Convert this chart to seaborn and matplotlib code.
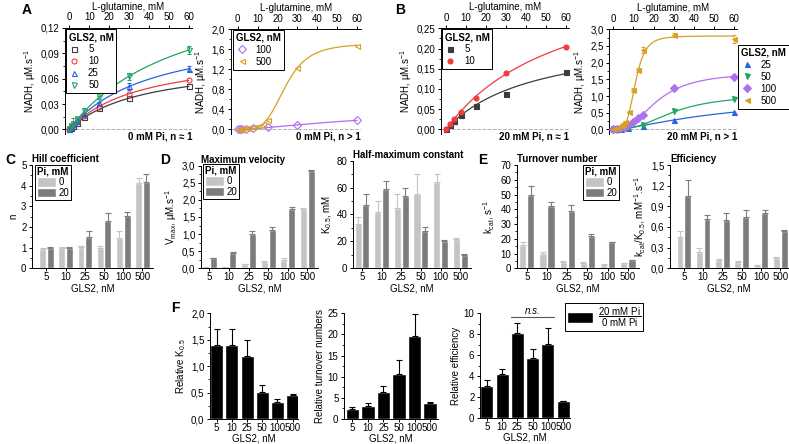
import numpy as np
import pandas as pd
import matplotlib
matplotlib.use('Agg')
import matplotlib.pyplot as plt
from matplotlib.ticker import FuncFormatter, MultipleLocator, AutoMinorLocator
from matplotlib.patches import Patch
from matplotlib.lines import Line2D
import seaborn as sns

W, H = 789, 444

# ---------------- данные ----------------
GLS2 = ['5', '10', '25', '50', '100', '500']

# A: 0 mM Pi, n ~ 1
A_X = [0, 1, 2, 4, 7.5, 15, 30, 60]
A_Y5 = [0, 0.002, 0.004, 0.008, 0.015, 0.025, 0.037, 0.051]
A_Y10 = [0, 0.003, 0.005, 0.009, 0.016, 0.026, 0.042, 0.058]
A_Y25 = [0, 0.003, 0.006, 0.010, 0.018, 0.031, 0.051, 0.072]
A_Y50 = [0, 0.004, 0.007, 0.012, 0.022, 0.038, 0.063, 0.094]
A_E25 = [0, 0.001, 0.002, 0.002, 0.002, 0.002, 0.004, 0.003]
A_E50 = [0, 0.002, 0.006, 0.003, 0.003, 0.002, 0.004, 0.005]
# A: 0 mM Pi, n > 1
A_X100 = [0, 1, 2, 4, 7.5, 15, 30, 60]
A_Y100 = [0, 0.004, 0.008, 0.012, 0.02, 0.04, 0.085, 0.19]
A_X500 = [0, 1, 2, 4, 5, 7.5, 10, 12.5, 15, 30, 60]
A_Y500 = [0, 0.005, 0.01, 0.02, 0.03, 0.05, 0.07, 0.1, 0.18, 1.22, 1.67]

# B: 20 mM Pi, n ~ 1
B_X = [0, 2, 4, 7.5, 15, 30, 60]
B_Y5 = [0, 0.01, 0.02, 0.035, 0.059, 0.088, 0.142]
B_Y10 = [0, 0.013, 0.025, 0.043, 0.078, 0.14, 0.204]
# B: 20 mM Pi, n > 1
B_X25 = [0, 2, 4, 7.5, 15, 30, 60]
B_Y25 = [0, 0.01, 0.02, 0.04, 0.09, 0.29, 0.52]
B_Y50 = [0, 0.01, 0.02, 0.05, 0.14, 0.56, 0.91]
B_X100 = [0, 2, 4, 6, 7.5, 10, 12.5, 15, 30, 60]
B_Y100 = [0, 0.01, 0.04, 0.08, 0.12, 0.22, 0.35, 0.42, 1.23, 1.58]
B_X500 = [0, 2, 4, 5, 6, 8, 10, 12.5, 15, 30, 60]
B_Y500 = [0, 0.05, 0.1, 0.16, 0.22, 0.52, 1.18, 1.78, 2.38, 2.84, 2.70]
B_E500 = [0, 0.01, 0.02, 0.02, 0.03, 0.04, 0.06, 0.05, 0.1, 0.06, 0.12]

# параметры аппроксимации Хилла (Vmax, K0.5, n)
FIT_A5, FIT_A10, FIT_A25, FIT_A50 = (0.082, 36.5, 1), (0.093, 36, 1), (0.122, 42, 1), (0.185, 58, 1)
FIT_A100, FIT_A500 = (0.4, 67, 1.5), (1.72, 24, 4.15)
FIT_B5, FIT_B10 = (0.239, 44, 1), (0.41, 60, 1)
FIT_B25, FIT_B50, FIT_B100, FIT_B500 = (0.95, 53, 1.5), (1.05, 30, 2.5), (1.72, 22, 2.5), (2.8, 11, 4.5)

# C-E: кинетические параметры (0 и 20 mM Pi)
HILL_0 = [0.95, 0.97, 1.03, 1.0, 1.48, 4.15]
HILL_0_ERR = [0.03, 0.08, 0.05, 0.06, 0.32, 0.2]
HILL_20 = [1.0, 1.0, 1.5, 2.29, 2.53, 4.2]
HILL_20_ERR = [0.03, 0.03, 0.3, 0.4, 0.19, 0.38]
VMAX_0 = [0.02, 0.04, 0.13, 0.19, 0.25, 1.72]
VMAX_0_ERR = [0.005, 0.01, 0.01, 0.02, 0.05, 0.03]
VMAX_20 = [0.29, 0.46, 1.0, 1.12, 1.74, 2.84]
VMAX_20_ERR = [0.01, 0.01, 0.08, 0.09, 0.06, 0.04]
K05_0 = [33, 42, 44.5, 55, 64, 22]
K05_0_ERR = [5, 8, 11, 15, 6, 0.5]
K05_20 = [47, 59, 53.7, 27.6, 20, 10]
K05_20_ERR = [8, 6, 6, 3, 1, 0.3]
KCAT_0 = [16, 10, 4.6, 3.9, 2.4, 3.3]
KCAT_0_ERR = [2, 1, 0.5, 0.4, 0.3, 0.3]
KCAT_20 = [50, 42, 39, 22, 17.5, 5.5]
KCAT_20_ERR = [6, 3, 4, 1, 0.5, 0.3]
EFF_0 = [0.46, 0.24, 0.12, 0.09, 0.04, 0.15]
EFF_0_ERR = [0.08, 0.05, 0.02, 0.02, 0.01, 0.01]
EFF_20 = [1.05, 0.71, 0.70, 0.75, 0.80, 0.535]
EFF_20_ERR = [0.23, 0.07, 0.10, 0.10, 0.05, 0.02]

# F: отношение 20 mM Pi / 0 mM Pi
REL_K = [1.4, 1.4, 1.2, 0.51, 0.33, 0.45]
REL_K_ERR = [0.3, 0.3, 0.3, 0.14, 0.04, 0.02]
REL_KCAT = [2.3, 3.0, 6.3, 10.6, 19.7, 3.7]
REL_KCAT_ERR = [0.6, 0.8, 1.5, 3.3, 5.1, 0.4]
REL_EFF = [3.1, 4.2, 8.1, 5.7, 7.1, 1.6]
REL_EFF_ERR = [0.55, 0.5, 1.0, 0.85, 1.5, 0.05]

COLORS = {'5': '#3c3c3c', '10': '#f03c3c', '25': '#2a62e0', '50': '#1fa565',
          '100': '#b06ef0', '500': '#d8a024'}
MARKERS = {'5': 's', '10': 'o', '25': '^', '50': 'v', '100': 'D', '500': '<'}
LIGHT, DARK = '#c4c4c4', '#7c7c7c'

# ---------------- стиль ----------------
sns.set_theme(style='ticks')
plt.rcParams['font.family'] = ['Liberation Sans', 'DejaVu Sans']
plt.rcParams.update({
    'font.size': 7, 'axes.labelsize': 7, 'xtick.labelsize': 7, 'ytick.labelsize': 7,
    'legend.fontsize': 7, 'axes.linewidth': 0.7,
    'xtick.major.width': 0.7, 'ytick.major.width': 0.7,
    'xtick.minor.width': 0.6, 'ytick.minor.width': 0.6,
    'xtick.major.size': 2.5, 'ytick.major.size': 2.5,
    'xtick.minor.size': 1.5, 'ytick.minor.size': 1.5,
    'xtick.major.pad': 1.5, 'ytick.major.pad': 1.5, 'axes.labelpad': 2,
    'axes.edgecolor': 'black', 'xtick.color': 'black', 'ytick.color': 'black',
    'text.color': 'black', 'axes.labelcolor': 'black',
    'mathtext.fontset': 'custom', 'mathtext.rm': 'Liberation Sans',
    'mathtext.it': 'Liberation Sans:italic', 'mathtext.bf': 'Liberation Sans:bold',
    'mathtext.default': 'regular',
})

fig = plt.figure(figsize=(W / 100, H / 100), dpi=100)


def px_axes(l, t, r, b):
    return fig.add_axes([l / W, 1 - b / H, (r - l) / W, (b - t) / H])


def comma(dec):
    return FuncFormatter(lambda v, p: f'{v:.{dec}f}'.replace('.', ','))


def hill(x, v, k, n):
    return v * x ** n / (k ** n + x ** n)


def fig_legend(ax, handles, labels, title, x, y, **kw):
    leg = ax.legend(handles, labels, title=title, loc='upper left',
                    bbox_to_anchor=(x / W, 1 - y / H), bbox_transform=fig.transFigure,
                    frameon=True, fancybox=False, edgecolor='black', framealpha=1,
                    borderaxespad=0, title_fontproperties={'weight': 'bold', 'size': 7}, **kw)
    leg._legend_box.align = 'left'
    leg.get_frame().set_linewidth(0.7)
    return leg


def kinetic_panel(box, xlim, ymax, ystep, dec, series, filled, note, leg_xy):
    ax = px_axes(*box)
    xs = np.linspace(0, 60, 300)
    handles, labels = [], []
    for x, y, err, fit, key in series:
        c = COLORS[key]
        sns.lineplot(x=xs, y=hill(xs, *fit), color=c, lw=0.9, ax=ax)
        fc = c if filled else 'none'
        ax.errorbar(x, y, yerr=err, fmt=MARKERS[key], ms=3.6, mfc=fc, mec=c, mew=0.8,
                    ecolor=c, elinewidth=0.6, capsize=1.5, ls='none', zorder=3)
        handles.append(Line2D([], [], marker=MARKERS[key], ls='none', ms=3.6,
                              mfc=fc, mec=c, mew=0.8))
        labels.append(key)
    ax.axhline(0, color='#b0b0b0', ls='--', lw=0.7, zorder=0)
    ax.set_xlim(*xlim)
    ax.set_ylim(-ymax * 0.045, ymax)
    ax.xaxis.tick_top()
    ax.xaxis.set_label_position('top')
    ax.set_xticks(range(0, 61, 10))
    ax.set_xlabel('L-glutamine, mM', labelpad=2)
    ax.yaxis.set_major_locator(MultipleLocator(ystep))
    ax.yaxis.set_minor_locator(AutoMinorLocator(2))
    ax.yaxis.set_major_formatter(comma(dec))
    ax.set_ylabel('NADH, µM.s$^{-1}$')
    for s in ('bottom', 'right'):
        ax.spines[s].set_visible(False)
    ax.text(1.0, -0.025, note, transform=ax.transAxes, ha='right', va='center',
            fontweight='bold', clip_on=False)
    fig_legend(ax, handles, labels, 'GLS2, nM', *leg_xy, borderpad=0.3,
               labelspacing=0.2, handletextpad=0.8, handlelength=1.2)
    return ax


def bar_panel(box, xlim, ymax, ystep, dec, v0, e0, v20, e20, title, ylabel, leg_xy=None):
    ax = px_axes(*box)
    df = pd.DataFrame({'GLS2': GLS2 * 2, 'Pi': ['0'] * 6 + ['20'] * 6, 'val': v0 + v20})
    sns.barplot(data=df, x='GLS2', y='val', hue='Pi', order=GLS2, hue_order=['0', '20'],
                palette=[LIGHT, DARK], width=0.8, gap=0.1, errorbar=None, legend=False,
                saturation=1, ax=ax)
    for cont, errs, col in zip(ax.containers, [e0, e20], [LIGHT, DARK]):
        bx = [p.get_x() + p.get_width() / 2 for p in cont]
        bh = [p.get_height() for p in cont]
        ax.errorbar(bx, bh, yerr=[np.zeros(len(errs)), errs], fmt='none', ecolor=col,
                    elinewidth=0.8, capsize=2, capthick=0.8)
    ax.set_xlim(*xlim)
    ax.set_ylim(0, ymax)
    ax.yaxis.set_major_locator(MultipleLocator(ystep))
    ax.yaxis.set_minor_locator(AutoMinorLocator(2))
    ax.yaxis.set_major_formatter(comma(dec))
    ax.tick_params(axis='x', length=2, pad=1)
    ax.set_xlabel('GLS2, nM', labelpad=0.5)
    ax.set_ylabel(ylabel)
    ax.set_title(title, loc='left', fontweight='bold', fontsize=7, pad=2)
    sns.despine(ax=ax)
    if leg_xy is not None:
        hs = [Patch(facecolor=LIGHT), Patch(facecolor=DARK)]
        fig_legend(ax, hs, ['0', '20'], 'Pi, mM', *leg_xy, borderpad=0.2,
                   labelspacing=0.05, handletextpad=0.2, handlelength=2.0, handleheight=1.1)
    return ax


def rel_panel(box, xlim, ymax, ystep, dec, vals, errs, ylabel):
    ax = px_axes(*box)
    sns.barplot(x=GLS2, y=vals, color='black', width=0.85, saturation=1,
                errorbar=None, ax=ax)
    bars = ax.containers[0]
    bx = [p.get_x() + p.get_width() / 2 for p in bars]
    bh = [p.get_height() for p in bars]
    ax.errorbar(bx, bh, yerr=[np.zeros(len(errs)), errs], fmt='none', ecolor='black',
                elinewidth=0.8, capsize=2.2, capthick=0.8)
    ax.set_xlim(*xlim)
    ax.set_ylim(0, ymax)
    ax.yaxis.set_major_locator(MultipleLocator(ystep))
    ax.yaxis.set_minor_locator(AutoMinorLocator(2))
    ax.yaxis.set_major_formatter(comma(dec))
    ax.tick_params(axis='x', length=2, pad=1)
    ax.set_xlabel('GLS2, nM', labelpad=0)
    ax.set_ylabel(ylabel)
    sns.despine(ax=ax)
    return ax


# ---------------- A ----------------
kinetic_panel((65, 28, 192, 134), (-2.15, 61.5), 0.12, 0.03, 2,
              [(A_X, A_Y5, None, FIT_A5, '5'), (A_X, A_Y10, None, FIT_A10, '10'),
               (A_X, A_Y25, A_E25, FIT_A25, '25'), (A_X, A_Y50, A_E50, FIT_A50, '50')],
              False, '0 mM Pi, n ≈ 1', (65.7, 29.3))
kinetic_panel((230.7, 29.3, 361, 134), (-3.5, 61.9), 2.0, 0.4, 1,
              [(A_X100, A_Y100, None, FIT_A100, '100'), (A_X500, A_Y500, None, FIT_A500, '500')],
              False, '0 mM Pi, n > 1', (233.3, 30))
# ---------------- B ----------------
kinetic_panel((440.7, 28.3, 569, 134), (-2.65, 61.7), 0.25, 0.05, 2,
              [(B_X, B_Y5, None, FIT_B5, '5'), (B_X, B_Y10, None, FIT_B10, '10')],
              True, '20 mM Pi, n ≈ 1', (441.7, 29.3))
kinetic_panel((609.3, 29.3, 737, 134), (-2.0, 61.5), 3.0, 0.5, 1,
              [(B_X25, B_Y25, None, FIT_B25, '25'), (B_X25, B_Y50, None, FIT_B50, '50'),
               (B_X100, B_Y100, None, FIT_B100, '100'), (B_X500, B_Y500, B_E500, FIT_B500, '500')],
              True, '20 mM Pi, n > 1', (738, 45))

# ---------------- C, D, E ----------------
bar_panel((32, 165, 153, 268.3), (-0.75, 5.55), 5, 1, 0, HILL_0, HILL_0_ERR, HILL_20, HILL_20_ERR,
          'Hill coefficient', 'n', leg_xy=(35, 165))
bar_panel((201, 165.7, 318, 268.3), (-0.43, 5.55), 3.0, 0.5, 1, VMAX_0, VMAX_0_ERR, VMAX_20,
          VMAX_20_ERR, 'Maximum velocity', 'V$_{max}$, µM.s$^{-1}$', leg_xy=(203, 164))
bar_panel((353, 160.7, 471, 268.3), (-0.46, 5.55), 80, 20, 0, K05_0, K05_0_ERR, K05_20,
          K05_20_ERR, 'Half-maximum constant', 'K$_{0.5}$, mM')
bar_panel((516.7, 165, 639, 268.3), (-0.5, 5.55), 70, 10, 0, KCAT_0, KCAT_0_ERR, KCAT_20,
          KCAT_20_ERR, 'Turnover number', 'k$_{cat}$, s$^{-1}$', leg_xy=(583, 165))
bar_panel((670, 165, 788, 268.3), (-0.72, 5.4), 1.5, 0.3, 1, EFF_0, EFF_0_ERR, EFF_20,
          EFF_20_ERR, 'Efficiency', 'k$_{cat}$/K$_{0.5}$, mM$^{-1}$.s$^{-1}$')

# ---------------- F ----------------
rel_panel((210, 313.3, 298.3, 419), (-0.44, 5.37), 2.0, 0.5, 1, REL_K, REL_K_ERR,
          'Relative K$_{0.5}$')
rel_panel((344, 313.3, 438.3, 419), (-0.54, 5.53), 25, 5, 0, REL_KCAT, REL_KCAT_ERR,
          'Relative turnover numbers')
ax_eff = rel_panel((480, 313.3, 570, 418), (-0.44, 5.44), 10, 2, 0, REL_EFF, REL_EFF_ERR,
                   'Relative efficiency')
ax_eff.plot([1.58, 4.42], [9.6, 9.6], color='#555555', lw=0.8, clip_on=False)
ax_eff.text(3.0, 9.75, 'n.s.', ha='center', va='bottom', style='italic', fontsize=7)
fig_legend(ax_eff, [Patch(facecolor='black')], [r'$\dfrac{20\ mM\ Pi}{0\ mM\ Pi}$'], None,
           565, 303.3, borderpad=0.25, handletextpad=0.5, handlelength=2.6, handleheight=1.4)

# буквы панелей
for letter, x, y in [('A', 27, 10), ('B', 400, 10), ('C', 10, 160), ('D', 165, 160),
                     ('E', 483, 160), ('F', 175, 308)]:
    fig.text(x / W, 1 - y / H, letter, fontsize=10, fontweight='bold', ha='center', va='center')

fig.savefig('out.png', dpi=100)
plt.close(fig)
